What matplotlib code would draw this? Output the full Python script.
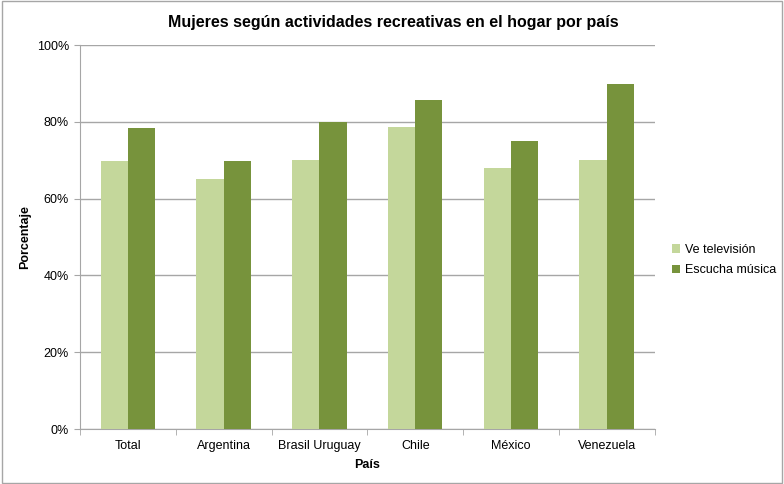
import numpy as np
import matplotlib
matplotlib.use("Agg")
from matplotlib import pyplot as plt
from matplotlib.patches import Rectangle

# data
paises = ["Total", "Argentina", "Brasil Uruguay", "Chile", "México", "Venezuela"]
ve_television = [69.8, 65.1, 70.0, 78.6, 68.0, 70.0]
escucha_musica = [78.4, 69.8, 80.0, 85.7, 75.0, 89.8]

plt.rcParams['font.family'] = ['Liberation Sans', 'DejaVu Sans']

fig = plt.figure(figsize=(7.84, 4.84), dpi=100)
ax = fig.add_axes([0.102, 0.1136, 0.733, 0.7934])

x = np.arange(len(paises))
w = 0.285
ax.bar(x - w/2, ve_television, w, color="#c4d79b", label="Ve televisión", zorder=3)
ax.bar(x + w/2, escucha_musica, w, color="#77933c", label="Escucha música", zorder=3)

ax.set_xlim(-0.5, len(paises) - 0.5)
ax.set_ylim(0, 100)
ax.set_yticks(range(0, 101, 20))
ax.set_yticklabels([f"{v}%" for v in range(0, 101, 20)], fontsize=9)
ax.yaxis.grid(True, color="#a6a6a6", linewidth=1, zorder=0)

ax.set_xticks(x)
ax.set_xticklabels(paises, fontsize=9)
ax.tick_params(axis="x", length=0, pad=8)
ax.set_xticks(np.arange(-0.5, len(paises)), minor=True)
ax.tick_params(axis="x", which="minor", length=4, color="#a6a6a6")
ax.tick_params(axis="y", length=4, color="#a6a6a6", pad=4)

for s in ["top", "right"]:
    ax.spines[s].set_visible(False)
ax.spines["left"].set_color("#a6a6a6")
ax.spines["bottom"].set_color("#a6a6a6")

ax.set_xlabel("País", fontsize=9, fontweight="bold", labelpad=5)
ax.set_ylabel("Porcentaje", fontsize=9, fontweight="bold")
ax.yaxis.set_label_coords(-0.085, 0.5)
fig.text(0.502, 0.953, "Mujeres según actividades recreativas en el hogar por país",
         ha="center", va="center", fontsize=11.5, fontweight="bold")

ax.legend(loc="center left", bbox_to_anchor=(1.01, 0.44), frameon=False,
          fontsize=9, handlelength=0.7, handleheight=0.7, handletextpad=0.35,
          labelspacing=0.7)

fig.patches.append(Rectangle((0.002, 0.002), 0.996, 0.996, transform=fig.transFigure,
                             fill=False, edgecolor="#a6a6a6", linewidth=1))

fig.savefig("out.png", dpi=100)
